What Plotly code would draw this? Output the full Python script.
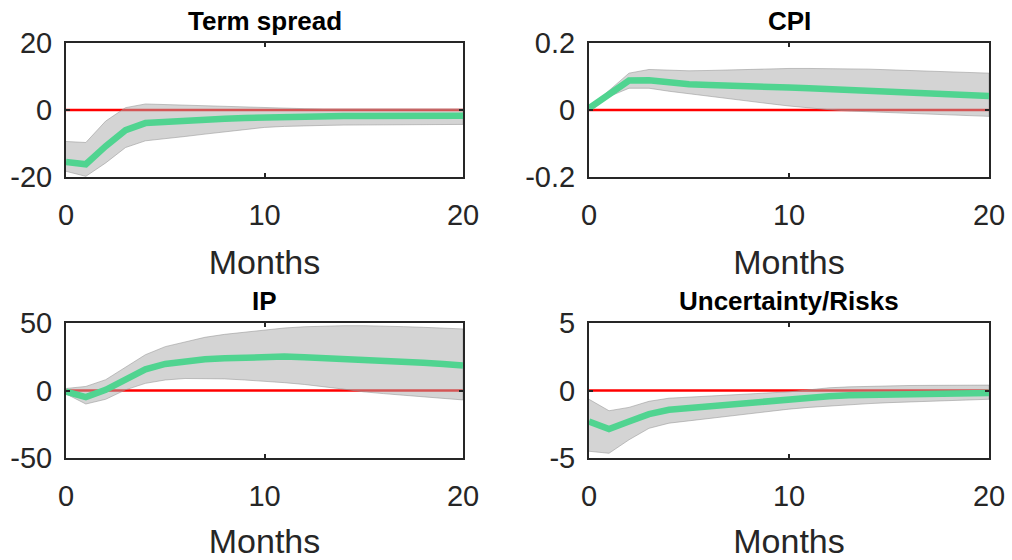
import plotly.graph_objects as go

months = list(range(21))

titles = ["Term spread", "CPI", "IP", "Uncertainty/Risks"]

term_irf = [-15.5, -16.2, -10.8, -6.0, -3.9, -3.5, -3.2, -2.9, -2.6, -2.4, -2.2,
            -2.0, -1.9, -1.9, -1.8, -1.8, -1.8, -1.8, -1.7, -1.7, -1.7]
term_lo = [-18.3, -19.8, -15.8, -11.2, -9.2, -8.5, -7.9, -7.2, -6.5, -5.8, -5.2,
           -4.9, -4.7, -4.6, -4.5, -4.4, -4.4, -4.4, -4.3, -4.3, -4.3]
term_hi = [-9.4, -9.7, -3.3, 0.7, 1.8, 1.6, 1.4, 1.2, 1.0, 0.8, 0.6,
           0.5, 0.4, 0.3, 0.3, 0.3, 0.3, 0.3, 0.3, 0.3, 0.3]

cpi_irf = [0.005, 0.045, 0.088, 0.089, 0.082, 0.077, 0.075, 0.074, 0.072, 0.070, 0.067,
           0.065, 0.062, 0.060, 0.057, 0.055, 0.052, 0.050, 0.047, 0.045, 0.042]
cpi_lo = [0.004, 0.040, 0.065, 0.065, 0.056, 0.048, 0.040, 0.033, 0.026, 0.019, 0.012,
          0.006, 0.001, -0.003, -0.006, -0.009, -0.011, -0.013, -0.015, -0.017, -0.019]
cpi_hi = [0.006, 0.058, 0.110, 0.121, 0.119, 0.117, 0.118, 0.120, 0.122, 0.123, 0.124,
          0.124, 0.124, 0.123, 0.122, 0.120, 0.118, 0.116, 0.114, 0.112, 0.110]

ip_irf = [-0.9, -4.9, 0.5, 8.3, 15.7, 19.7, 21.6, 23.1, 23.8, 24.6, 25.1,
          25.1, 24.6, 24.1, 23.3, 22.7, 22.0, 21.2, 20.5, 19.7, 18.5]
ip_lo = [-2.5, -10.0, -6.5, 0.5, 5.3, 7.8, 8.9, 8.9, 8.6, 7.8, 7.0,
         5.8, 4.5, 3.0, 1.0, -1.0, -2.3, -3.5, -4.8, -6.0, -7.0]
ip_hi = [1.5, 3.0, 8.0, 17.0, 26.5, 32.5, 36.0, 39.4, 41.6, 43.3, 45.0,
         46.3, 47.2, 47.8, 48.0, 48.0, 47.8, 47.3, 46.8, 46.3, 45.6]

unc_irf = [-2.3, -2.85, -2.3, -1.75, -1.43, -1.3, -1.18, -1.04, -0.89, -0.74, -0.6,
           -0.5, -0.42, -0.36, -0.32, -0.28, -0.25, -0.23, -0.21, -0.2, -0.19]
unc_lo = [-4.5, -4.65, -3.65, -2.8, -2.42, -2.25, -2.07, -1.89, -1.72, -1.55, -1.38,
          -1.25, -1.14, -1.05, -0.97, -0.9, -0.84, -0.78, -0.73, -0.69, -0.65]
unc_hi = [-0.65, -1.5, -1.25, -0.8, -0.57, -0.5, -0.43, -0.35, -0.28, -0.2, -0.1,
          0.05, 0.2, 0.27, 0.32, 0.35, 0.37, 0.38, 0.39, 0.4, 0.4]

y_ranges = [[-20, 20], [-0.2, 0.2], [-50, 50], [-5, 5]]
y_ticks = [[-20, 0, 20], [-0.2, 0, 0.2], [-50, 0, 50], [-5, 0, 5]]
y_ticktext = [["-20", "0", "20"], ["-0.2", "0", "0.2"], ["-50", "0", "50"], ["-5", "0", "5"]]
x_ticks = [0, 10, 20]

series = [(term_irf, term_lo, term_hi), (cpi_irf, cpi_lo, cpi_hi),
          (ip_irf, ip_lo, ip_hi), (unc_irf, unc_lo, unc_hi)]

W, H = 1012, 560
x_domains = [[66 / W, 463 / W], [589 / W, 989 / W]]
y_domains = [[1 - 177 / H, 1 - 43 / H], [1 - 458 / H, 1 - 323 / H]]

GREEN = "#50D490"
AXC = "#262626"
FONT = "Liberation Sans, Arial, Helvetica, sans-serif"

fig = go.Figure()
layout = dict(
    width=W, height=H,
    margin=dict(l=0, r=0, t=0, b=0, autoexpand=False),
    paper_bgcolor="white", plot_bgcolor="white",
    showlegend=False,
    font=dict(family=FONT, color=AXC),
    annotations=[], shapes=[],
)

for i in range(4):
    r, c = divmod(i, 2)
    n = i + 1
    xa = "x" if n == 1 else f"x{n}"
    ya = "y" if n == 1 else f"y{n}"
    irf, lo, hi = series[i]

    # zero reference line (drawn below traces)
    layout["shapes"].append(dict(type="line", xref=xa, yref=ya, x0=months[0], x1=months[-1],
                                 y0=0, y1=0, line=dict(color="#FF0000", width=2.5), layer="below"))

    # confidence band
    fig.add_trace(go.Scatter(
        x=months + months[::-1], y=hi + lo[::-1], xaxis=xa, yaxis=ya,
        mode="lines", fill="toself", fillcolor="rgba(170,170,170,0.5)",
        line=dict(color="rgba(150,150,150,0.55)", width=1), hoverinfo="skip"))
    # impulse response
    fig.add_trace(go.Scatter(
        x=months, y=irf, xaxis=xa, yaxis=ya, mode="lines",
        line=dict(color=GREEN, width=6.5)))

    axis_common = dict(showgrid=False, zeroline=False, showline=True, linecolor=AXC,
                       linewidth=2, mirror="ticks", ticks="inside", ticklen=4,
                       tickcolor=AXC, tickwidth=1.5, automargin=False,
                       tickfont=dict(family=FONT, size=29, color=AXC))
    layout["xaxis" if n == 1 else f"xaxis{n}"] = dict(
        axis_common, domain=x_domains[c], anchor=ya, range=[0, 20],
        tickvals=x_ticks, ticklabelstandoff=11,
        title=dict(text="Months", font=dict(family=FONT, size=34, color=AXC), standoff=20))
    layout["yaxis" if n == 1 else f"yaxis{n}"] = dict(
        axis_common, domain=y_domains[r], anchor=xa, range=y_ranges[i],
        tickvals=y_ticks[i], ticktext=y_ticktext[i], ticklabelstandoff=6)

    layout["annotations"].append(dict(
        text=f"<b>{titles[i]}</b>", xref="paper", yref="paper",
        x=sum(x_domains[c]) / 2, y=y_domains[r][1], yshift=22,
        xanchor="center", yanchor="middle", showarrow=False,
        font=dict(family=FONT, size=26, color="black")))

fig.update_layout(**layout)
fig.write_html("out.html", config={"displayModeBar": False},
               post_script="document.body.style.margin='0';document.body.style.overflow='hidden';")
